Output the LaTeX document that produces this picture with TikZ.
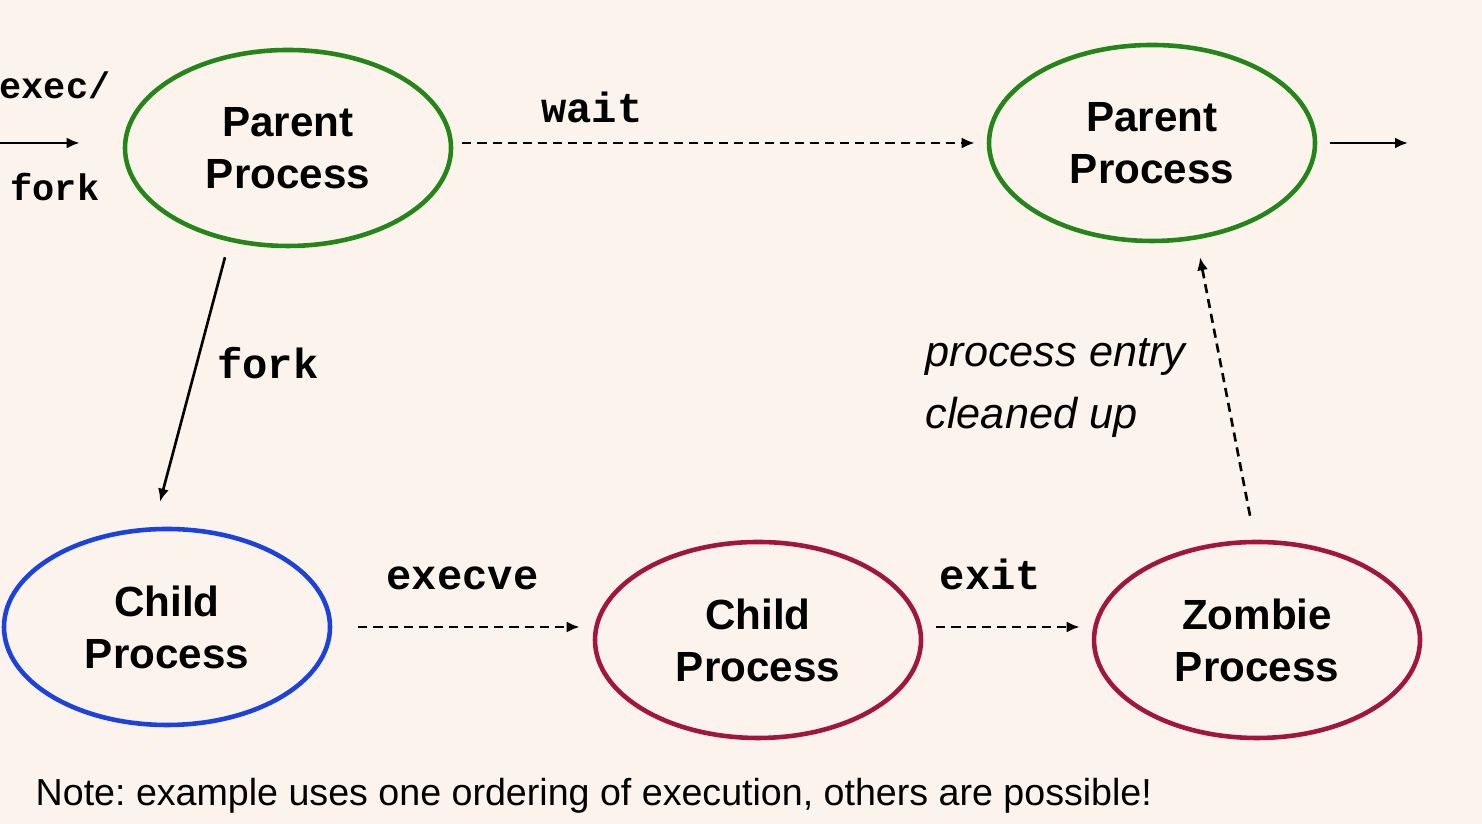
\documentclass[tikz,border=0pt]{standalone}
\usepackage{fontspec}
\setmainfont{Liberation Sans}
\setmonofont{Liberation Mono}
\usetikzlibrary{arrows.meta,positioning,shapes.geometric}
\definecolor{paper}{RGB}{253,243,237}
\definecolor{parentgreen}{RGB}{36,134,24}
\definecolor{childblue}{RGB}{28,66,222}
\definecolor{crimson}{RGB}{160,22,60}
\frenchspacing

\begin{document}
\begin{tikzpicture}[
  proc/.style={ellipse,line width=1.3pt,inner sep=0pt,
               minimum width=3.26cm,minimum height=1.96cm,
               font=\fontsize{12}{14.8}\selectfont\bfseries,align=center},
  code/.style={font=\fontsize{12}{14}\selectfont\ttfamily\bfseries},
  arr/.style={-{Latex[length=1.3mm,width=1.1mm]},line width=0.75pt},
  darr/.style={arr,dash pattern=on 2.6pt off 1.7pt}]

  \fill[paper] (0,0) rectangle (14.82,8.24);
  \useasboundingbox (0,0) rectangle (14.82,8.24);

  \node[proc,draw=parentgreen] (P1) at (2.88,6.76)  {Parent\\Process};
  \node[proc,draw=parentgreen] (P2) at (11.52,6.81) {Parent\\Process};
  \node[proc,draw=childblue]   (C1) at (1.67,1.97)  {Child\\Process};
  \node[proc,draw=crimson]     (C2) at (7.58,1.84)  {Child\\Process};
  \node[proc,draw=crimson]     (Z)  at (12.57,1.84) {Zombie\\Process};

  \coordinate (in)  at (0,6.81);
  \coordinate (out) at (14.08,6.81);

  % entry from the left
  \draw[arr,shorten >=0.43cm] (in) -- (P1.west |- in);
  \node[code,font=\fontsize{10.5}{12}\selectfont\ttfamily\bfseries] (ex) at (0.55,7.39) {exec/};
  \node[code,font=\fontsize{10.5}{12}\selectfont\ttfamily\bfseries] (fk) at (0.55,6.37) {fork};

  \draw[darr,shorten <=0.09cm,shorten >=0.12cm] (P1.east |- P2.west) -- (P2.west)
    node[code,pos=0.26,above=0.07cm] {wait};
  \draw[arr,shorten <=0.13cm] (P2.east) -- (out);

  \draw[arr] ([xshift=-0.63cm,yshift=-0.09cm]P1.south) -- ([xshift=-0.07cm,yshift=0.25cm]C1.north);
  \node[code] (lfork) at (2.68,4.61) {fork};

  \draw[darr,shorten <=0.26cm,shorten >=0.13cm] (C1.east) -- (C2.west |- C1.east)
    node[code,midway,above=0.24cm] {execve};
  \draw[darr,shorten <=0.13cm,shorten >=0.12cm] (C2.east |- C1.east) -- (Z.west |- C1.east)
    node[code,midway,above=0.24cm,xshift=-0.17cm] {exit};

  \draw[darr] ([xshift=-0.07cm,yshift=0.24cm]Z.north) -- ([xshift=0.48cm,yshift=-0.14cm]P2.south);
  \node[anchor=west,align=left,inner sep=0pt,
        font=\fontsize{12.3}{17.6}\selectfont\itshape] (clean) at (9.25,4.36)
        {process entry\\cleaned up};

  \node[anchor=west,inner sep=0pt,font=\fontsize{10.7}{12}\selectfont] (note) at (0.35,0.28)
    {Note: example uses one ordering of execution, others are possible!};
\end{tikzpicture}
\end{document}
